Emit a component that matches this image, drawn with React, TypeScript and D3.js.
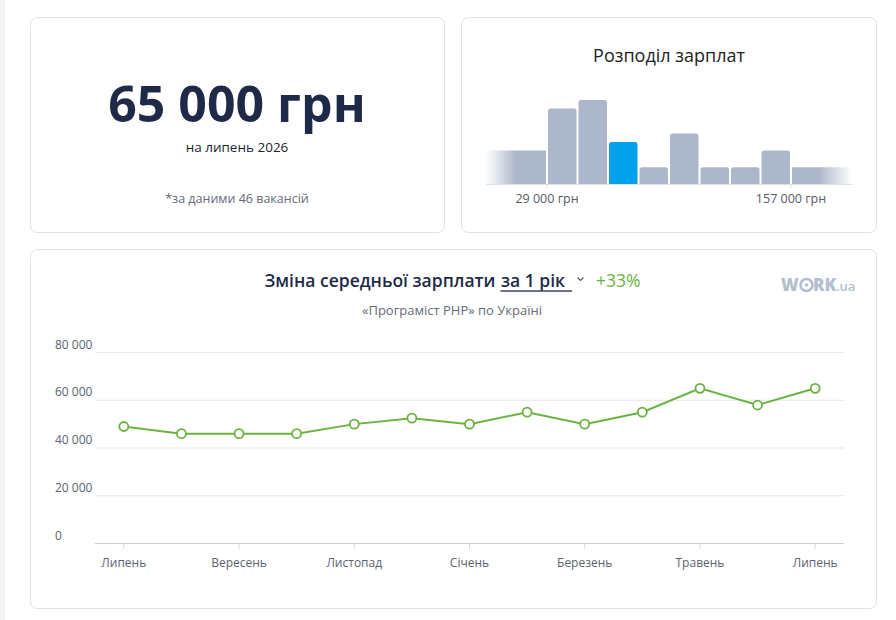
import React, { useLayoutEffect, useRef, useState } from "react";
import * as d3 from "d3";

// Salary distribution: bin edges (UAH) and vacancy counts per bin
const histEdges = [-3000, 29000, 45000, 61000, 77000, 93000, 109000, 125000, 141000, 157000, 189000];
const histCounts = [4, 9, 10, 5, 2, 6, 2, 2, 4, 2];
const histActiveBin = 3;
const histTickValues = [29000, 157000];
const histTickLabels = ["29 000 грн", "157 000 грн"];

// Average salary by month over one year
const months = [
  "Липень", "Серпень", "Вересень", "Жовтень", "Листопад", "Грудень",
  "Січень", "Лютий", "Березень", "Квітень", "Травень", "Червень", "Липень",
];
const monthKeys = months.map((m, i) => `${i}-${m}`);
const salaries = [49000, 46000, 46000, 46000, 50000, 52500, 50000, 55000, 50000, 55000, 65000, 58000, 65000];
const yTicks = [0, 20000, 40000, 60000, 80000];

const FONT = "'Open Sans', 'Noto Sans', sans-serif";
const fmt = (v: number) => d3.format(",")(v).replace(/,/g, " ");

function Card({ x, y, w, h }: { x: number; y: number; w: number; h: number }) {
  return <rect x={x + 0.5} y={y + 0.5} width={w} height={h} rx={7} fill="#fff" stroke="#dfe1e5" />;
}

function Histogram() {
  const x = d3.scaleLinear().domain([histEdges[0], histEdges[histEdges.length - 1]]).range([486, 852]);
  const y = d3.scaleLinear().domain([0, 10]).range([184, 100]);
  const last = histCounts.length - 1;
  const barPath = (x0: number, x1: number, top: number, bottom: number, r: number) =>
    `M${x0},${bottom}V${top + r}Q${x0},${top} ${x0 + r},${top}H${x1 - r}Q${x1},${top} ${x1},${top + r}V${bottom}Z`;
  return (
    <g>
      <defs>
        <linearGradient id="fadeLeft" x1="0" x2="1" y1="0" y2="0">
          <stop offset="0" stopColor="#adb7cb" stopOpacity="0" />
          <stop offset="0.5" stopColor="#adb7cb" stopOpacity="1" />
          <stop offset="1" stopColor="#adb7cb" stopOpacity="1" />
        </linearGradient>
        <linearGradient id="fadeRight" x1="0" x2="1" y1="0" y2="0">
          <stop offset="0" stopColor="#adb7cb" stopOpacity="1" />
          <stop offset="0.45" stopColor="#adb7cb" stopOpacity="1" />
          <stop offset="1" stopColor="#adb7cb" stopOpacity="0" />
        </linearGradient>
      </defs>
      <text x={669} y={62} textAnchor="middle" fontFamily={FONT} fontSize={18} fill="#222">
        Розподіл зарплат
      </text>
      {histCounts.map((c, i) => {
        const x0 = x(histEdges[i]) + (i === 0 ? 0 : 1);
        const x1 = x(histEdges[i + 1]) - (i === last ? 0 : 1);
        const fill =
          i === histActiveBin ? "#03a1ec" : i === 0 ? "url(#fadeLeft)" : i === last ? "url(#fadeRight)" : "#adb7cb";
        const r = i === 0 || i === last ? 0 : 2.5;
        return <path key={i} d={barPath(x0, x1, y(c), y(0), r)} fill={fill} />;
      })}
      <line x1={486} x2={852} y1={184.5} y2={184.5} stroke="#dde1e8" />
      {histTickValues.map((v, i) => (
        <g key={v} transform={`translate(${x(v)},0)`}>
          <line y1={184} y2={188} stroke="#dde1e8" />
          <text y={203} textAnchor="middle" fontFamily={FONT} fontSize={12.5} fill="#555b66">
            {histTickLabels[i]}
          </text>
        </g>
      ))}
    </g>
  );
}

function ChartTitle({ change }: { change: number }) {
  const r1 = useRef<SVGTextElement>(null);
  const r2 = useRef<SVGTextElement>(null);
  const r3 = useRef<SVGTextElement>(null);
  const [w, setW] = useState<[number, number, number]>([233, 62, 49]);
  useLayoutEffect(() => {
    if (r1.current && r2.current && r3.current) {
      setW([
        r1.current.getComputedTextLength(),
        r2.current.getComputedTextLength(),
        r3.current.getComputedTextLength(),
      ]);
    }
  }, []);
  const gap = 5.5;
  const underlineExtra = 7;
  const chevronGap = 31;
  const total = w[0] + gap + w[1] + chevronGap + w[2];
  const x1 = 452.5 - total / 2;
  const x2 = x1 + w[0] + gap;
  const ulEnd = x2 + w[1] + underlineExtra;
  const x3 = x2 + w[1] + chevronGap;
  const cx = ulEnd + 8.5;
  const style = { fontFamily: FONT, fontSize: 17.5, fontWeight: 600 };
  return (
    <g>
      <text ref={r1} x={x1} y={287} {...style} fill="#1e2a47">
        Зміна середньої зарплати
      </text>
      <text ref={r2} x={x2} y={287} {...style} fill="#1e2a47">
        за 1 рік
      </text>
      <line x1={x2 - 0.5} x2={ulEnd} y1={291} y2={291} stroke="#3b4763" strokeWidth={1.3} />
      <path d={`M${cx - 3},277.5 L${cx},280.5 L${cx + 3},277.5`} fill="none" stroke="#555" strokeWidth={1.1} />
      <text ref={r3} x={x3} y={287} {...style} fontWeight={500} fill="#6ab341">
        {`+${change}%`}
      </text>
    </g>
  );
}

function LineChart() {
  const x = d3.scalePoint<string>().domain(monthKeys).range([95, 844]).padding(0.5);
  const y = d3.scaleLinear().domain([0, 80000]).range([543.5, 352.5]);
  const line = d3
    .line<number>()
    .x((_, i) => x(monthKeys[i]) as number)
    .y((d) => y(d));
  const change = Math.round((salaries[salaries.length - 1] / salaries[0] - 1) * 100);
  return (
    <g>
      <ChartTitle change={change} />
      <text x={452} y={315} textAnchor="middle" fontFamily={FONT} fontSize={13} fill="#666c77">
        «Програміст PHP» по Україні
      </text>
      <g fontFamily={FONT} fontSize={17} fontWeight={800} fill="#b4bed1">
        <text x={781} y={291}>W</text>
        <circle cx={806.5} cy={285} r={6} fill="none" stroke="#b4bed1" strokeWidth={2.6} />
        <circle cx={806.5} cy={285} r={1.8} />
        <text x={813} y={291}>RK</text>
        <text x={836} y={291} fontSize={13} fontWeight={600}>.ua</text>
      </g>

      {yTicks.map((t) => (
        <g key={t}>
          <line x1={95} x2={844} y1={y(t)} y2={y(t)} stroke={t === 0 ? "#ccd1d9" : "#e6e8eb"} />
          <text x={55} y={y(t) - 4} fontFamily={FONT} fontSize={12} fill="#5c6370">
            {fmt(t)}
          </text>
        </g>
      ))}
      {monthKeys.map((k, i) =>
        i % 2 === 0 ? (
          <g key={k} transform={`translate(${x(k)},0)`}>
            <line y1={543.5} y2={549} stroke="#d5d9df" />
            <text y={567} textAnchor="middle" fontFamily={FONT} fontSize={12} fill="#5c6370">
              {months[i]}
            </text>
          </g>
        ) : null
      )}
      <path d={line(salaries) || ""} fill="none" stroke="#6ab341" strokeWidth={2} />
      {salaries.map((v, i) => (
        <circle key={i} cx={x(monthKeys[i])} cy={y(v)} r={4.5} fill="#fff" stroke="#6ab341" strokeWidth={1.8} />
      ))}
    </g>
  );
}

export default function App() {
  return (
    <svg
      width={896}
      height={620}
      viewBox="0 0 896 620"
      style={{ position: "absolute", left: 0, top: 0, display: "block" }}
    >
      <rect width={896} height={620} fill="#fff" />
      <rect width={5} height={620} fill="#f3f4f6" />
      <Card x={30} y={17} w={414} h={215} />
      <Card x={461} y={17} w={415} h={215} />
      <Card x={30} y={249} w={846} h={359} />

      <text x={237} y={122} textAnchor="middle" fontFamily={FONT} fontSize={50} fontWeight={700} fill="#1e2a47">
        {`${fmt(salaries[salaries.length - 1])} грн`}
      </text>
      <text x={237} y={152} textAnchor="middle" fontFamily={FONT} fontSize={13.5} fill="#1d2433">
        на липень 2026
      </text>
      <text x={237} y={203} textAnchor="middle" fontFamily={FONT} fontSize={12.5} fill="#666c77">
        *за даними 46 вакансій
      </text>

      <Histogram />
      <LineChart />
    </svg>
  );
}
